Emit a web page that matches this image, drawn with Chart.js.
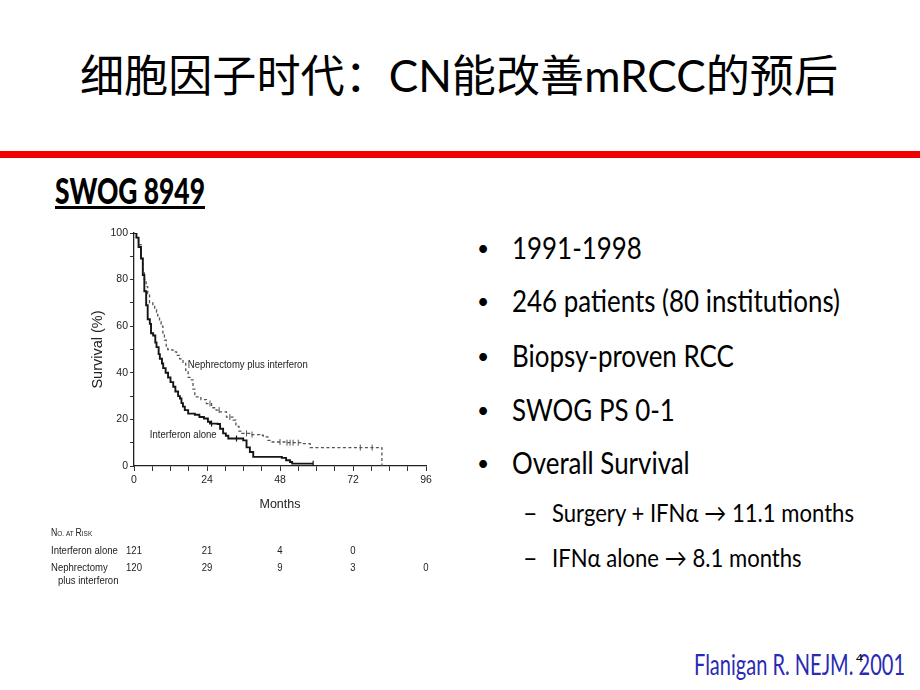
<!DOCTYPE html>
<html>
<head>
<meta charset="utf-8">
<script src="https://cdn.jsdelivr.net/npm/chart.js@4/dist/chart.umd.min.js"></script>
<style>
  html, body { margin: 0; padding: 0; background: #fff; }
  body { width: 920px; height: 690px; position: relative; overflow: hidden; }
  .t { position: absolute; white-space: nowrap; transform-origin: 0 0; }
  #title { font-family: Lato, "Noto Sans CJK SC", sans-serif; font-size: 44px; line-height: 44px; top: 53px; left: 80px; color: #000; }
  #bar { position: absolute; left: 0; top: 151px; width: 920px; height: 7px; background: #f00000; }
  #swog { font-family: Lato, sans-serif; font-weight: 900; font-size: 36px; line-height: 36px; left: 55px; top: 172px; color: #000; }
  #uline { position: absolute; left: 55px; top: 206px; width: 150px; height: 3px; background: #000; }
  .b { font-family: Lato, "DejaVu Sans", sans-serif; font-size: 30.5px; line-height: 36px; color: #000; }
  .d { font-family: Lato, "DejaVu Sans", sans-serif; font-size: 21px; line-height: 24px; color: #000; }
  .s { font-family: Lato, "DejaVu Sans", sans-serif; font-size: 25px; line-height: 30px; color: #000; }
  #cite { font-family: Lato, sans-serif; font-size: 28px; line-height: 34px; color: #2a2ab4; left: 694px; top: 647px; }
  #pg { font-family: Lato, sans-serif; font-size: 12px; line-height: 14px; color: #000; left: 856px; top: 651px; }
  #chartWrap { position: absolute; left: 40px; top: 220px; width: 400px; height: 375px; }
</style>
</head>
<body>
<div id="title" class="t">细胞因子时代：CN能改善mRCC的预后</div>
<div id="bar"></div>
<div id="swog" class="t">SWOG 8949</div>
<div id="uline"></div>

<div class="t d" style="left:477px;top:236px">•</div>
<div class="t b bl" style="left:512px;top:229px">1991-1998</div>
<div class="t d" style="left:477px;top:289px">•</div>
<div class="t b bl" id="longest" style="left:512px;top:282px">246 patients (80 institutions)</div>
<div class="t d" style="left:477px;top:344px">•</div>
<div class="t b bl" style="left:512px;top:337px">Biopsy-proven RCC</div>
<div class="t d" style="left:477px;top:398px">•</div>
<div class="t b bl" style="left:512px;top:391px">SWOG PS 0-1</div>
<div class="t d" style="left:477px;top:451px">•</div>
<div class="t b bl" style="left:512px;top:444px">Overall Survival</div>
<div class="t s" style="left:523px;top:497px">–</div>
<div class="t s sl" id="sub1" style="left:552px;top:497px">Surgery + IFNα → 11.1 months</div>
<div class="t s" style="left:523px;top:542px">–</div>
<div class="t s sl" style="left:552px;top:542px">IFNα alone → 8.1 months</div>

<div id="cite" class="t">Flanigan R. NEJM. 2001</div>
<div id="pg" class="t">4</div>

<div id="chartWrap"><canvas id="c" width="400" height="375"></canvas></div>

<script>
// ---------- data ----------
const ifnMonths = [0,0.8,1.5,2.3,2.9,3.4,4.0,4.5,5.2,5.6,6.3,7.0,7.4,8.1,8.5,9.2,9.6,10.4,11.2,12.0,12.9,13.6,14.5,15.1,15.6,16.1,16.7,17.8,20.0,21.5,23.0,24.3,25.0,27.5,28.3,29.3,30.2,31.0,35.9,37.0,38.1,39.2,48.6,50.0,51.3,52.0,58.9];
const ifnSurv   = [100,98,94,89,82,75,69,63,61,57,56,53,51,48,46,44,42,40,38,36,34,32,30,29,27,25.5,24,22.5,22,21,20.4,19,18.2,18,16,14,13,11.8,11,8,6,3.9,3.5,2.5,1.7,1,1];

const nephMonths = [0,0.8,1.5,2.3,2.9,3.4,4.0,4.5,5.1,6.2,6.8,7.4,7.8,8.4,8.9,9.5,10.0,10.6,11.1,11.8,12.8,14.0,15.0,16.1,17.0,17.8,18.4,19.4,20.0,20.5,22.0,23.8,25.5,27.0,28.2,30.4,32.6,33.5,34.5,35.4,38.0,41.4,42.5,44.0,44.7,50.0,55.7,57.9,81.5,81.5];
const nephSurv   = [100,98,95,90,84,80,77,74,70,68.5,67,66,64.4,62,60,57,54,51,50,49.8,49,47.5,46,44,41,38,37,33,30,29.7,28.5,26.8,25,24,23.2,21,19.7,17,15,14,13.5,13.2,12.5,11,10.3,10,9.6,7.9,7.9,0];

const nephCensor = [25, 28, 31.5, 37, 38.8, 48, 50.3, 51.3, 52.3, 54, 74.4, 78.3];
const ifnCensor  = [25.5, 33.7, 58.9];

const riskTimes   = [0, 24, 48, 72, 96];
const riskIfn     = [121, 21, 4, 0];
const riskNeph    = [120, 29, 9, 3, 0];

const xTickLabels = [0, 24, 48, 72, 96];
const yTickLabels = [0, 20, 40, 60, 80, 100];

const seriesNames = ['Interferon alone', 'Nephrectomy plus interferon'];

// ---------- helpers ----------
function pts(ms, ss) { return ms.map((m, i) => ({ x: m, y: ss[i] })); }
function survAt(ms, ss, t) {
  let v = ss[0];
  for (let i = 0; i < ms.length; i++) { if (ms[i] <= t) v = ss[i]; }
  return v;
}

// ---------- text fitting for the slide (reference text is horizontally condensed) ----------
function fitW(el, w) {
  const r = el.getBoundingClientRect().width;
  el.style.transform = 'scaleX(' + (w / r) + ')';
  return w / r;
}
fitW(document.getElementById('title'), 758);
fitW(document.getElementById('swog'), 150);
const kb = fitW(document.getElementById('longest'), 328);
document.querySelectorAll('.bl').forEach(e => { e.style.transform = 'scaleX(' + kb + ')'; });
const ks = fitW(document.getElementById('sub1'), 302);
document.querySelectorAll('.sl').forEach(e => { e.style.transform = 'scaleX(' + ks + ')'; });
fitW(document.getElementById('cite'), 211);

// ---------- chart ----------
const FONT = "'Liberation Sans', Arial, sans-serif";
const SQ = 0.83; // horizontal condensing of the figure's small text

function condText(ctx, txt, x, y, align) {
  ctx.save();
  ctx.translate(x, y);
  ctx.scale(SQ, 1);
  ctx.textAlign = align || 'left';
  ctx.fillText(txt, 0, 0);
  ctx.restore();
}

const extras = {
  id: 'extras',
  afterDraw(chart) {
    const ctx = chart.ctx, xs = chart.scales.x, ys = chart.scales.y;
    ctx.save();
    ctx.fillStyle = '#222';
    ctx.textBaseline = 'middle';
    ctx.font = '11.5px ' + FONT;
    condText(ctx, seriesNames[1], xs.getPixelForValue(17.7), ys.getPixelForValue(43.3));
    condText(ctx, seriesNames[0], xs.getPixelForValue(5.2), ys.getPixelForValue(13.2));

    // No. at risk (small caps)
    ctx.textBaseline = 'alphabetic';
    let x = 11; const by = 316;
    const parts = [['N', 10.5], ['O. AT ', 7.8], ['R', 10.5], ['ISK', 7.8]];
    parts.forEach(p => {
      ctx.font = p[1] + 'px ' + FONT;
      condText(ctx, p[0], x, by);
      x += ctx.measureText(p[0]).width * SQ;
    });

    ctx.textBaseline = 'middle';
    ctx.font = '11.5px ' + FONT;
    condText(ctx, 'Interferon alone', 11, 331);
    condText(ctx, 'Nephrectomy', 11, 348);
    condText(ctx, 'plus interferon', 18, 361);
    riskIfn.forEach((v, i) => condText(ctx, String(v), xs.getPixelForValue(riskTimes[i]), 331, 'center'));
    riskNeph.forEach((v, i) => condText(ctx, String(v), xs.getPixelForValue(riskTimes[i]), 348, 'center'));
    ctx.restore();
  }
};

new Chart(document.getElementById('c'), {
  type: 'line',
  data: {
    datasets: [
      { label: seriesNames[0], data: pts(ifnMonths, ifnSurv), stepped: 'before',
        borderColor: '#151515', borderWidth: 1.9, pointRadius: 0, fill: false },
      { label: seriesNames[1], data: pts(nephMonths, nephSurv), stepped: 'before',
        borderColor: '#555', borderWidth: 1.3, borderDash: [3, 2.5], pointRadius: 0, fill: false },
      { type: 'scatter', label: 'censor-neph', data: nephCensor.map(t => ({ x: t, y: survAt(nephMonths, nephSurv, t) })),
        pointStyle: 'line', rotation: 90, radius: 3, borderColor: '#555', borderWidth: 1, showLine: false },
      { type: 'scatter', label: 'censor-ifn', data: ifnCensor.map(t => ({ x: t, y: survAt(ifnMonths, ifnSurv, t) })),
        pointStyle: 'line', rotation: 90, radius: 3, borderColor: '#151515', borderWidth: 1.2, showLine: false }
    ]
  },
  options: {
    responsive: false,
    animation: false,
    devicePixelRatio: 1,
    layout: { padding: { left: 49, top: 13, right: 14, bottom: 83 } },
    plugins: { legend: { display: false }, tooltip: { enabled: false } },
    scales: {
      x: {
        type: 'linear', min: 0, max: 96,
        afterFit(s) { s.height = 46; },
        ticks: { stepSize: 6, autoSkip: false, maxRotation: 0, padding: 3, color: '#222',
                 font: { family: FONT, size: 10.5 },
                 callback: v => xTickLabels.includes(v) ? String(v) : '' },
        grid: { drawOnChartArea: false, drawTicks: true, tickLength: 5, color: '#333', lineWidth: 1 },
        border: { display: true, color: '#222', width: 1.3 },
        title: { display: true, text: 'Months', color: '#222', font: { family: FONT, size: 12.5 }, padding: 0 }
      },
      y: {
        type: 'linear', min: 0, max: 100,
        afterFit(s) { s.width = 45; },
        ticks: { stepSize: 10, autoSkip: false, padding: 2, color: '#222',
                 font: { family: FONT, size: 10.5 },
                 callback: v => yTickLabels.includes(v) ? String(v) : '' },
        grid: { drawOnChartArea: false, drawTicks: true, tickLength: 4, color: '#333', lineWidth: 1 },
        border: { display: true, color: '#222', width: 1.3 },
        title: { display: true, text: 'Survival (%)', color: '#222', font: { family: FONT, size: 14.5 }, padding: 0 }
      }
    }
  },
  plugins: [extras]
});
</script>
</body>
</html>
